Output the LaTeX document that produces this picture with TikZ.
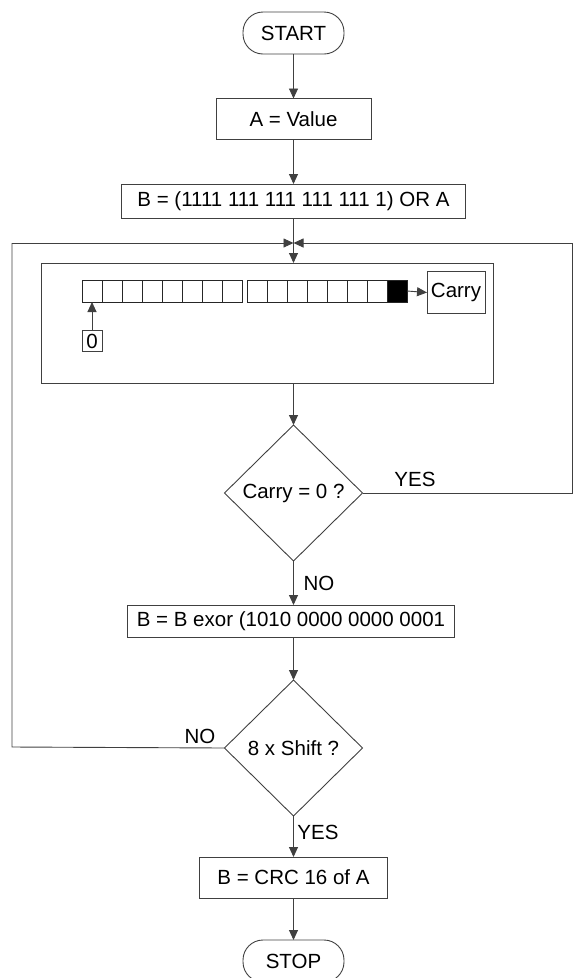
\documentclass[tikz,border=0pt]{standalone}
\usepackage{fontspec}
\setmainfont{Liberation Sans}
\usetikzlibrary{shapes.geometric,arrows.meta}
\begin{document}
\begin{tikzpicture}[x=1pt,y=-1pt,
  every node/.style={font=\fontsize{20.5}{24}\selectfont, inner sep=0pt, outer sep=0pt},
  ln/.style={draw=black!75, line width=0.9pt},
  arr/.style={ln, -{Triangle[length=10pt,width=9pt]}},
  box/.style={ln, draw, rectangle, fill=white},
  term/.style={ln, draw, rectangle, rounded corners=20pt, minimum width=101pt, minimum height=42pt},
  dia/.style={ln, draw, diamond, minimum width=138pt, minimum height=136pt},
  cell/.style={draw=black!85, line width=0.8pt, rectangle, minimum width=20pt, minimum height=22pt},
  lbl/.style={}
]
\useasboundingbox (0,0) rectangle (573,978);

\node[term] (start) at (293.5,33) {START};
\node[box, minimum width=155pt, minimum height=41pt] (a) at (293.5,119) {A = Value};
\node[box, minimum width=344pt, minimum height=34pt] (b) at (293.5,201) {B = (1111 111 111 111 111 1) OR A};
\coordinate (merge) at (293.5,243);
\node[box, minimum width=452pt, minimum height=120pt] (reg) at (267,323) {};

% shift register cells
\foreach \i in {0,...,7} {
  \node[cell] (l\i) at (92+20*\i,291) {};
}
\foreach \i in {0,...,6} {
  \node[cell] (r\i) at (257+20*\i,291) {};
}
\node[cell, fill=black] (r7) at (397,291) {};
\node[box, minimum width=58pt, minimum height=42pt] (carry) at (456,292.5) {Carry};
\node[box, minimum width=20pt, minimum height=21pt] (zero) at (92,341) {0};

\node[dia] (d1) at (293.5,493) {Carry = 0 ?};
\node[box, minimum width=327pt, minimum height=32pt] (exor) at (291,621) {B = B exor (1010 0000 0000 0001};
\node[dia] (d2) at (293.5,748) {8 x Shift ?};
\node[box, minimum width=188pt, minimum height=41pt] (crc) at (293.5,877.5) {B = CRC 16 of A};
\node[term] (stop) at (293.5,961) {STOP};

\coordinate (lt) at (12,243);
\coordinate (lb) at (12,747);
\coordinate (rt) at (572.5,243);
\coordinate (rb) at (572.5,493);

% connectors
\draw[arr] (start) -- (a);
\draw[arr] (a) -- (b);
\draw[ln] (b) -- (merge);
\draw[arr] (merge) -- (reg.north -| merge);
\draw[arr] (r7.east) -- (carry.west);
\draw[arr] (zero.north) -- (l0.south);
\draw[arr] (reg.south -| d1) -- (d1.north);
\draw[ln] (d1.east) -- (rb) -- (rt);
\draw[arr] (rt) -- (merge);
\draw[arr] (d1.south) -- (d1.south |- exor.north);
\draw[arr] (exor.south -| d2) -- (d2.north);
\draw[ln] (d2.west) -- (lb) -- (lt);
\draw[arr] (lt) -- (merge);
\draw[arr] (d2.south) -- (crc.north);
\draw[arr] (crc) -- (stop);

% labels
\node[lbl] (yes1) at (415,479) {YES};
\node[lbl] (no1) at (319,583) {NO};
\node[lbl] (no2) at (200,736) {NO};
\node[lbl] (yes2) at (318,832) {YES};
\end{tikzpicture}
\end{document}
